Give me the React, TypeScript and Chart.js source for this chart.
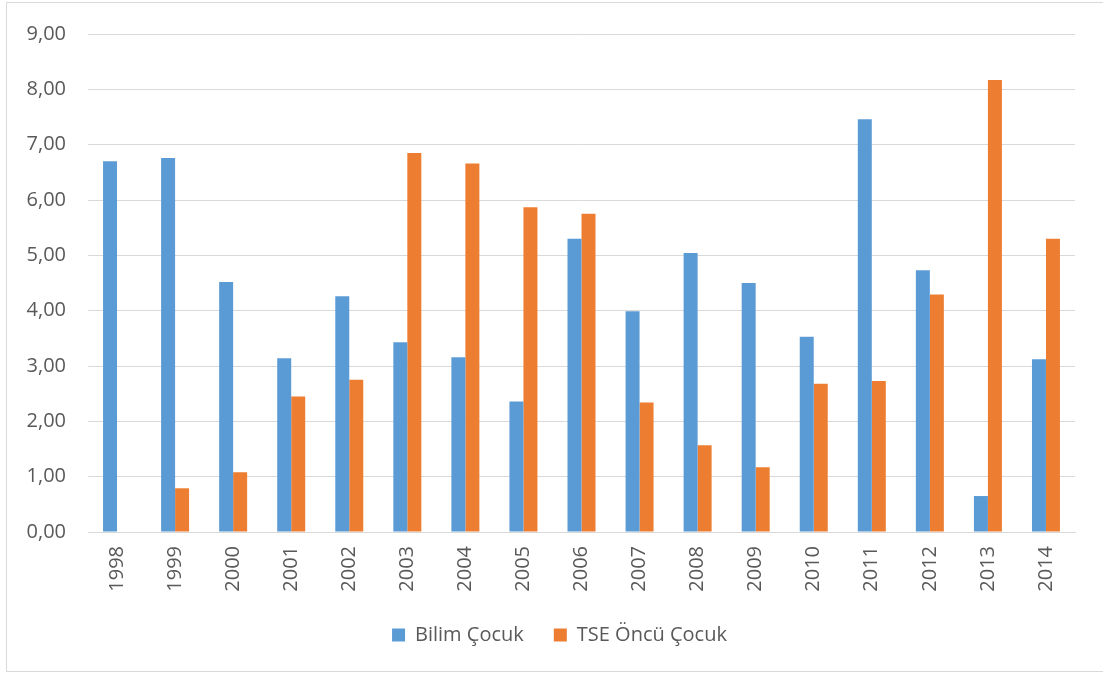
import React, { useEffect, useRef } from "react";
import { Chart, registerables } from "chart.js";

Chart.register(...registerables);

const years = ["1998","1999","2000","2001","2002","2003","2004","2005","2006","2007","2008","2009","2010","2011","2012","2013","2014"];
const bilimCocuk = [6.70, 6.76, 4.52, 3.14, 4.26, 3.43, 3.16, 2.36, 5.30, 3.99, 5.04, 4.50, 3.53, 7.46, 4.73, 0.65, 3.12];
const tseOncuCocuk = [0, 0.79, 1.08, 2.45, 2.75, 6.85, 6.66, 5.87, 5.75, 2.34, 1.57, 1.17, 2.68, 2.73, 4.29, 8.17, 5.30];
const seriesNames = ["Bilim Çocuk", "TSE Öncü Çocuk"];

const FONT = "'Open Sans', 'Liberation Sans', sans-serif";
const TEXT = "#595959";
const GRID = "#d9d9d9";

const legendShift = {
  id: "legendShift",
  afterLayout(chart: any) {
    const lg = chart.legend;
    if (lg) {
      lg.left += 22;
      lg.right += 22;
    }
  },
};

export default function App() {
  const ref = useRef<HTMLCanvasElement | null>(null);
  useEffect(() => {
    if (!ref.current) return;
    const chart = new Chart(ref.current, {
      type: "bar",
      data: {
        labels: years,
        datasets: [
          { label: seriesNames[0], data: bilimCocuk, backgroundColor: "#5B9BD5", categoryPercentage: 0.482, barPercentage: 1 },
          { label: seriesNames[1], data: tseOncuCocuk, backgroundColor: "#ED7D31", categoryPercentage: 0.482, barPercentage: 1 },
        ],
      },
      plugins: [legendShift],
      options: {
        animation: false,
        responsive: false,
        maintainAspectRatio: false,
        layout: { padding: { top: 31, right: 28, bottom: 20, left: 0 } },
        plugins: {
          tooltip: { enabled: false },
          legend: {
            position: "bottom",
            labels: {
              color: TEXT,
              font: { family: FONT, size: 20 },
              boxWidth: 13,
              boxHeight: 13,
              padding: 30,
            },
          },
        },
        scales: {
          x: {
            grid: { display: false, drawTicks: false },
            border: { display: true, color: GRID, width: 1 },
            ticks: {
              color: TEXT,
              font: { family: FONT, size: 20 },
              minRotation: 90,
              maxRotation: 90,
              padding: 14,
              autoSkip: false,
            },
            afterFit: (s: any) => { s.height = 63; },
          },
          y: {
            min: 0,
            max: 9,
            grid: { color: GRID, lineWidth: 1, drawTicks: false },
            border: { display: false },
            ticks: {
              stepSize: 1,
              color: TEXT,
              font: { family: FONT, size: 20 },
              padding: 22,
              callback: (v: any) => Number(v).toFixed(2).replace(".", ","),
            },
            afterFit: (s: any) => { s.width = 88; },
          },
        },
      },
    });
    return () => chart.destroy();
  }, []);
  return (
    <div style={{ position: "absolute", left: 0, top: 0, width: 1103, height: 675, background: "#fff" }}>
      <div style={{ position: "absolute", left: 6, top: 2, width: 1100, height: 670, border: "1px solid #d9d9d9", boxSizing: "border-box" as any }} />
      <canvas ref={ref} width={1103} height={675} style={{ position: "absolute", left: 0, top: 0, width: 1103, height: 675 }} />
    </div>
  );
}
